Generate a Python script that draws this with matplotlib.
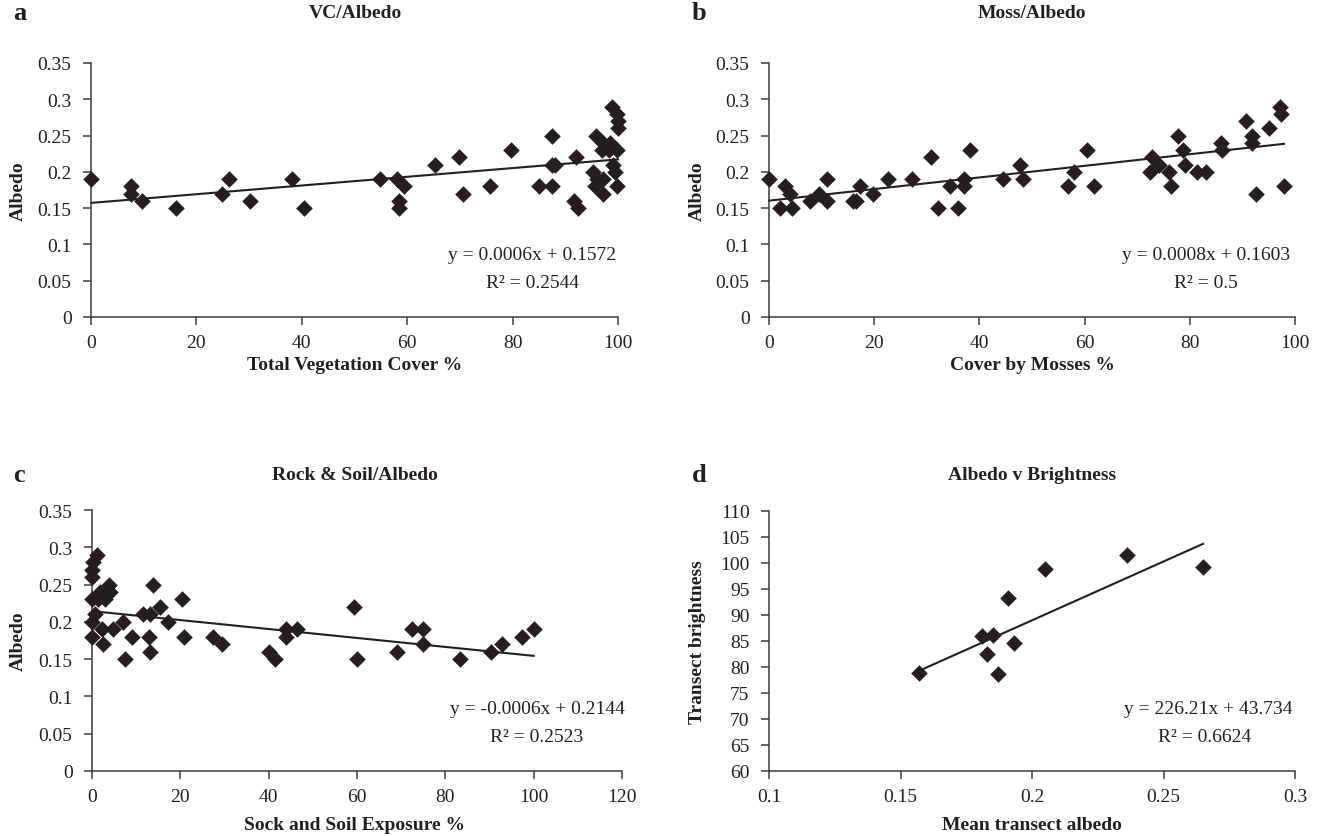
import matplotlib
matplotlib.use("Agg")
import matplotlib.pyplot as plt
from matplotlib.ticker import FuncFormatter, MultipleLocator
import numpy as np

plt.rcParams['font.family'] = ['Liberation Serif', 'DejaVu Serif']

# ---------------- data ----------------
# a: Total vegetation cover vs albedo
vc_x = [0, 7.6, 7.6, 9.6, 16.1, 24.9, 26.2, 30.2, 38.2, 40.5, 54.8, 58.0, 59.3, 58.5, 58.5,
        65.3, 69.9, 70.5, 75.7, 79.7, 85.0, 87.5, 87.5, 88.0, 87.5, 92.0, 91.7, 92.5, 95.8,
        97.2, 96.9, 95.3, 96.0, 95.6, 97.2, 97.2, 98.8, 99.8, 100, 100, 98.5, 98.2, 99.8,
        99.1, 99.4, 99.8]
vc_y = [0.19, 0.18, 0.17, 0.16, 0.15, 0.17, 0.19, 0.16, 0.19, 0.15, 0.19, 0.19, 0.18, 0.16, 0.15,
        0.21, 0.22, 0.17, 0.18, 0.23, 0.18, 0.25, 0.21, 0.21, 0.18, 0.22, 0.16, 0.15, 0.25,
        0.24, 0.23, 0.20, 0.19, 0.18, 0.19, 0.17, 0.29, 0.28, 0.27, 0.26, 0.24, 0.23, 0.23,
        0.21, 0.20, 0.18]
vc_fit = (0.0006, 0.1572)
vc_eq = ["y = 0.0006x + 0.1572", "R² = 0.2544"]

# b: Moss cover vs albedo
moss_x = [0, 2.1, 3.0, 4.0, 4.3, 7.7, 9.6, 11.1, 11.1, 16.0, 16.5, 17.3, 19.7, 22.7, 27.1,
          30.8, 32.1, 34.4, 35.9, 37.1, 37.1, 38.3, 44.4, 47.7, 48.2, 56.8, 58.0, 60.5, 61.8,
          72.8, 72.4, 74.2, 76.1, 76.5, 77.8, 78.8, 79.1, 81.4, 83.1, 85.9, 86.1, 90.6, 91.9,
          91.9, 92.6, 95.1, 97.1, 97.4, 97.9]
moss_y = [0.19, 0.15, 0.18, 0.17, 0.15, 0.16, 0.17, 0.19, 0.16, 0.16, 0.16, 0.18, 0.17, 0.19, 0.19,
          0.22, 0.15, 0.18, 0.15, 0.19, 0.18, 0.23, 0.19, 0.21, 0.19, 0.18, 0.20, 0.23, 0.18,
          0.22, 0.20, 0.21, 0.20, 0.18, 0.25, 0.23, 0.21, 0.20, 0.20, 0.24, 0.23, 0.27, 0.25,
          0.24, 0.17, 0.26, 0.29, 0.28, 0.18]
moss_fit = (0.0008, 0.1603)
moss_eq = ["y = 0.0008x + 0.1603", "R² = 0.5"]

# c: Rock & soil exposure vs albedo
rs_x = [1.1, 0.3, 0, 0, 1.8, 3.9, 0, 1.4, 2.9, 2.9, 4.1, 13.9, 20.3, 15.4, 11.6, 13.1, 0.7, 0,
        7.1, 17.3, 2.2, 4.7, 0, 9.0, 12.9, 20.8, 27.3, 2.4, 29.5, 13.1, 7.5, 40.0, 41.5, 43.9,
        46.5, 43.9, 59.3, 60.0, 69.0, 72.4, 75.0, 75.0, 83.4, 90.3, 92.8, 97.3, 100]
rs_y = [0.29, 0.28, 0.27, 0.26, 0.24, 0.25, 0.23, 0.23, 0.24, 0.23, 0.24, 0.25, 0.23, 0.22, 0.21,
        0.21, 0.21, 0.20, 0.20, 0.20, 0.19, 0.19, 0.18, 0.18, 0.18, 0.18, 0.18, 0.17, 0.17, 0.16,
        0.15, 0.16, 0.15, 0.19, 0.19, 0.18, 0.22, 0.15, 0.16, 0.19, 0.19, 0.17, 0.15, 0.16,
        0.17, 0.18, 0.19]
rs_fit = (-0.0006, 0.2144)
rs_eq = ["y = -0.0006x + 0.2144", "R² = 0.2523"]

# d: Mean transect albedo vs transect brightness
alb_x = [0.157, 0.181, 0.183, 0.185, 0.187, 0.191, 0.193, 0.205, 0.236, 0.265]
bright_y = [78.8, 85.9, 82.5, 86.2, 78.6, 93.2, 84.7, 98.9, 101.6, 99.2]
ab_fit = (226.21, 43.734)
ab_eq = ["y = 226.21x + 43.734", "R² = 0.6624"]

titles = ["VC/Albedo", "Moss/Albedo", "Rock & Soil/Albedo", "Albedo v Brightness"]
letters = ["a", "b", "c", "d"]
xlabels = ["Total Vegetation Cover %", "Cover by Mosses %", "Sock and Soil Exposure %",
           "Mean transect albedo"]
ylabels = ["Albedo", "Albedo", "Albedo", "Transect brightness"]

# ---------------- layout ----------------
W, H = 1318, 837
fig = plt.figure(figsize=(W / 100, H / 100), dpi=100)
INK = '#231f20'
AXC = '#3c3c3c'


def frac(px, py):
    return px / W, 1 - py / H


def make_ax(x0, x1, ytop, ybot):
    l, t = frac(x0, ytop)
    r, b = frac(x1, ybot)
    return fig.add_axes([l, b, r - l, t - b])


ax_a = make_ax(91, 618, 64, 318)
ax_b = make_ax(769, 1295, 64, 318)
ax_c = make_ax(92, 622, 511, 772)
ax_d = make_ax(769, 1295, 512, 772)

fmt = FuncFormatter(lambda v, p: ('%g' % round(v, 4)))

panels = [
    (ax_a, vc_x, vc_y, vc_fit, vc_eq, (0, 100, 20), (0, 0.35, 0.05)),
    (ax_b, moss_x, moss_y, moss_fit, moss_eq, (0, 100, 20), (0, 0.35, 0.05)),
    (ax_c, rs_x, rs_y, rs_fit, rs_eq, (0, 120, 20), (0, 0.35, 0.05)),
    (ax_d, alb_x, bright_y, ab_fit, ab_eq, (0.1, 0.3, 0.05), (60, 110, 5)),
]

for ax, xs, ys, fit, eq, xr, yr in panels:
    ax.scatter(xs, ys, marker='D', s=66, color=INK, edgecolors=INK, linewidths=0.3,
               zorder=3, clip_on=False)
    xx = np.array([min(xs), max(xs)])
    ax.plot(xx, fit[0] * xx + fit[1], color=INK, lw=1.5, zorder=2, clip_on=False)
    ax.set_xlim(xr[0], xr[1])
    ax.set_ylim(yr[0], yr[1])
    ax.xaxis.set_major_locator(MultipleLocator(xr[2]))
    ax.yaxis.set_major_locator(MultipleLocator(yr[2]))
    ax.xaxis.set_major_formatter(fmt)
    ax.yaxis.set_major_formatter(fmt)
    for s in ['top', 'right']:
        ax.spines[s].set_visible(False)
    for s in ['left', 'bottom']:
        ax.spines[s].set_color(AXC)
        ax.spines[s].set_linewidth(1.1)
    ax.tick_params(axis='both', direction='out', length=6, width=1.1, color=AXC,
                   labelsize=14, labelcolor=INK)
    ax.tick_params(axis='y', pad=8)
    ax.tick_params(axis='x', pad=6)
    ax.set_facecolor('none')

# equations (pixel centers)
eq_pos = [((532, 255), (533, 283)), ((1206, 255), (1206, 283)),
          ((537, 710), (537, 738)), ((1208, 710), (1205, 738))]
for (ax, xs, ys, fit, eq, xr, yr), (p1, p2) in zip(panels, eq_pos):
    fig.text(*frac(*p1), eq[0], ha='center', va='center', fontsize=14, color=INK)
    fig.text(*frac(*p2), eq[1], ha='center', va='center', fontsize=14, color=INK)

title_pos = [(355, 14), (1032, 14), (355, 476), (1032, 476)]
letter_pos = [(13, 14), (692, 14), (13, 476), (692, 476)]
xlabel_pos = [(355, 366), (1032, 366), (355, 826), (1032, 826)]
ylabel_pos = [(18, 191), (697, 191), (18, 641), (697, 642)]

for i in range(4):
    fig.text(*frac(*title_pos[i]), titles[i], ha='center', va='center', fontsize=14,
             fontweight='bold', color=INK)
    fig.text(*frac(*letter_pos[i]), letters[i], ha='left', va='center', fontsize=19,
             fontweight='bold', color=INK)
    fig.text(*frac(*xlabel_pos[i]), xlabels[i], ha='center', va='center', fontsize=14,
             fontweight='bold', color=INK)
    fig.text(*frac(*ylabel_pos[i]), ylabels[i], ha='center', va='center', fontsize=14,
             fontweight='bold', color=INK, rotation=90)

fig.savefig("out.png", dpi=100, facecolor='white')
